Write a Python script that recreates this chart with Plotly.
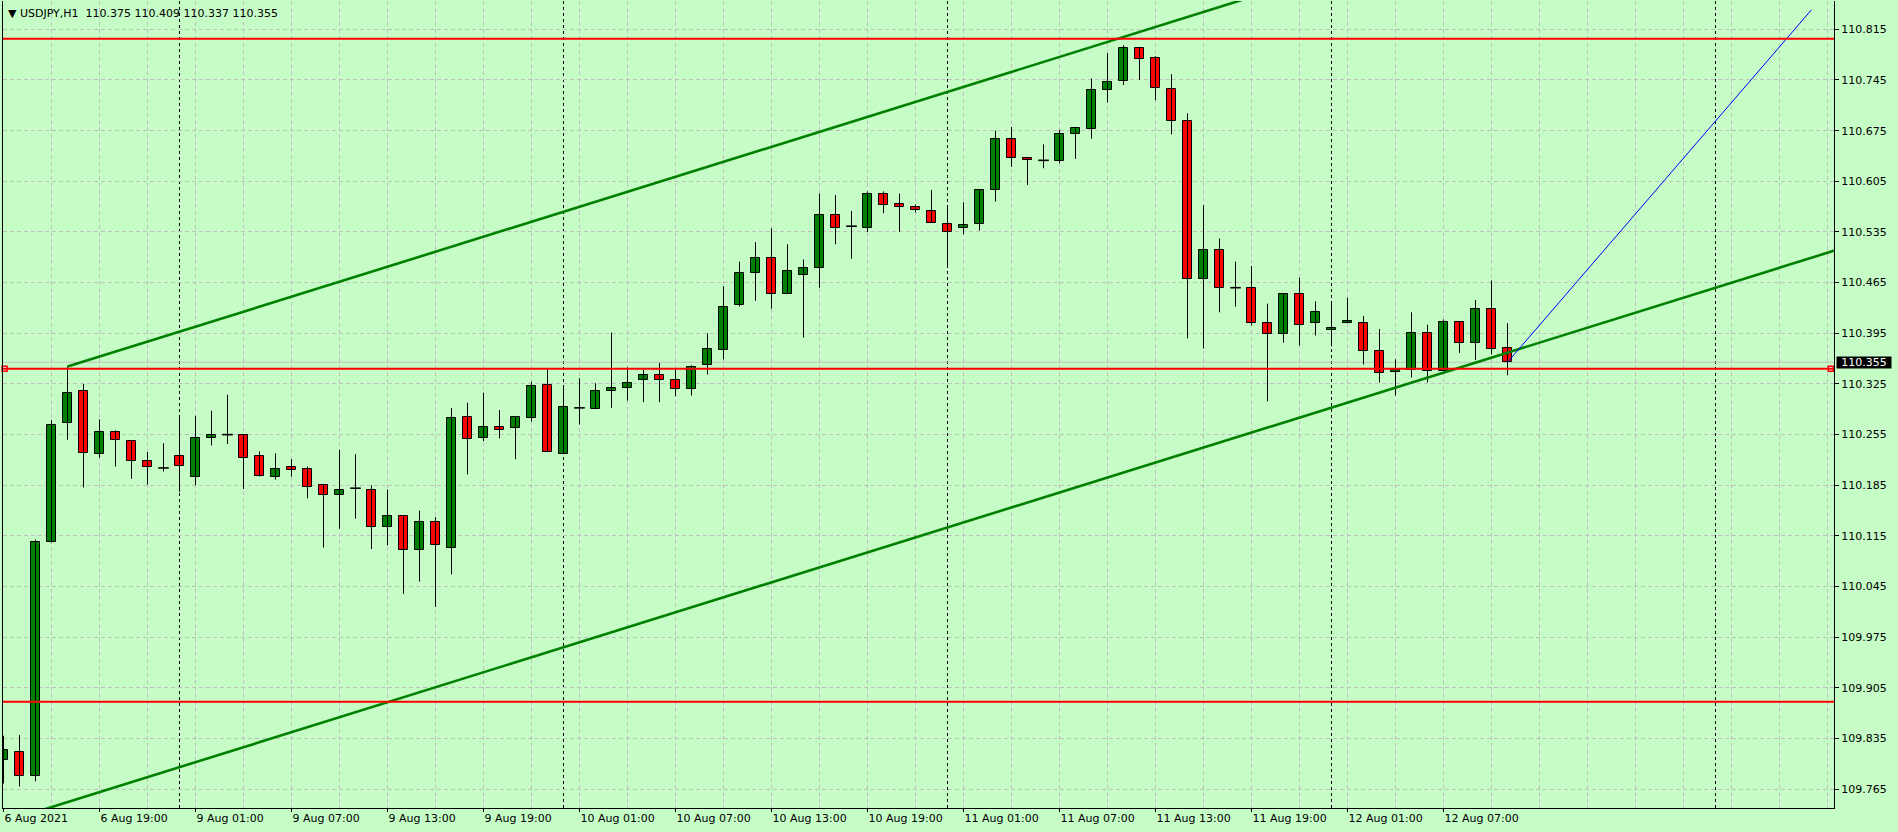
import pandas as pd
import plotly.graph_objects as go

# ---------------- data ----------------
symbol = "USDJPY,H1"

opens = [109.805, 109.817, 109.783, 110.106, 110.271, 110.315, 110.228, 110.258, 110.246, 110.218,
         110.209, 110.225, 110.196, 110.251, 110.255, 110.255, 110.225, 110.197, 110.210, 110.207,
         110.185, 110.171, 110.181, 110.179, 110.128, 110.142, 110.095, 110.134, 110.098, 110.279,
         110.250, 110.265, 110.264, 110.278, 110.323, 110.228, 110.292, 110.291, 110.315, 110.319,
         110.330, 110.338, 110.330, 110.318, 110.351, 110.372, 110.434, 110.479, 110.499, 110.450,
         110.475, 110.485, 110.559, 110.543, 110.541, 110.588, 110.573, 110.569, 110.564, 110.546,
         110.541, 110.546, 110.593, 110.663, 110.637, 110.634, 110.633, 110.670, 110.677, 110.731,
         110.743, 110.789, 110.775, 110.732, 110.689, 110.470, 110.510, 110.458, 110.457, 110.409,
         110.394, 110.450, 110.409, 110.399, 110.409, 110.409, 110.370, 110.341, 110.345, 110.395,
         110.343, 110.410, 110.381, 110.428, 110.375]
highs = [109.839, 109.840, 110.110, 110.275, 110.349, 110.325, 110.276, 110.261, 110.247, 110.231,
         110.243, 110.281, 110.281, 110.288, 110.310, 110.255, 110.232, 110.229, 110.221, 110.211,
         110.186, 110.234, 110.228, 110.185, 110.179, 110.142, 110.150, 110.141, 110.292, 110.299,
         110.313, 110.289, 110.280, 110.328, 110.347, 110.322, 110.333, 110.326, 110.396, 110.348,
         110.345, 110.354, 110.345, 110.351, 110.395, 110.460, 110.494, 110.521, 110.540, 110.518,
         110.497, 110.588, 110.586, 110.564, 110.591, 110.591, 110.588, 110.573, 110.593, 110.571,
         110.576, 110.593, 110.675, 110.680, 110.637, 110.656, 110.676, 110.678, 110.747, 110.782,
         110.793, 110.790, 110.778, 110.753, 110.699, 110.572, 110.526, 110.494, 110.488, 110.436,
         110.450, 110.472, 110.439, 110.438, 110.444, 110.419, 110.401, 110.359, 110.424, 110.407,
         110.414, 110.410, 110.441, 110.468, 110.409]
lows = [109.773, 109.769, 109.776, 110.106, 110.248, 110.182, 110.223, 110.211, 110.194, 110.186,
        110.204, 110.176, 110.185, 110.240, 110.242, 110.180, 110.197, 110.193, 110.197, 110.167,
        110.099, 110.125, 110.139, 110.097, 110.102, 110.035, 110.052, 110.017, 110.062, 110.200,
        110.246, 110.250, 110.221, 110.273, 110.231, 110.228, 110.269, 110.291, 110.292, 110.302,
        110.300, 110.300, 110.308, 110.309, 110.338, 110.359, 110.432, 110.440, 110.429, 110.450,
        110.389, 110.458, 110.518, 110.498, 110.535, 110.561, 110.535, 110.562, 110.548, 110.489,
        110.532, 110.537, 110.577, 110.625, 110.600, 110.623, 110.630, 110.636, 110.664, 110.714,
        110.738, 110.745, 110.717, 110.670, 110.388, 110.374, 110.424, 110.432, 110.406, 110.301,
        110.382, 110.378, 110.392, 110.377, 110.409, 110.352, 110.327, 110.309, 110.334, 110.327,
        110.343, 110.368, 110.358, 110.366, 110.337]
closes = [109.819, 109.784, 110.106, 110.269, 110.313, 110.229, 110.258, 110.247, 110.218, 110.210,
          110.209, 110.211, 110.251, 110.254, 110.255, 110.223, 110.198, 110.208, 110.206, 110.183,
          110.171, 110.179, 110.181, 110.128, 110.142, 110.095, 110.135, 110.102, 110.278, 110.249,
          110.265, 110.262, 110.279, 110.322, 110.231, 110.293, 110.292, 110.315, 110.319, 110.327,
          110.338, 110.330, 110.318, 110.349, 110.374, 110.432, 110.479, 110.499, 110.450, 110.481,
          110.485, 110.559, 110.541, 110.543, 110.588, 110.572, 110.570, 110.565, 110.548, 110.535,
          110.544, 110.593, 110.663, 110.637, 110.634, 110.634, 110.670, 110.678, 110.731, 110.742,
          110.789, 110.774, 110.734, 110.689, 110.470, 110.510, 110.457, 110.458, 110.409, 110.394,
          110.450, 110.407, 110.424, 110.402, 110.412, 110.370, 110.340, 110.345, 110.396, 110.343,
          110.410, 110.381, 110.428, 110.374, 110.355]

# hourly slots (trading hours only), including the empty future area on the right
bar_times = (list(pd.date_range("2021-08-06 13:00", periods=11, freq="h"))
             + list(pd.date_range("2021-08-09 00:00", periods=104, freq="h")))

y_tick_values = [109.765, 109.835, 109.905, 109.975, 110.045, 110.115, 110.185, 110.255,
                 110.325, 110.395, 110.465, 110.535, 110.605, 110.675, 110.745, 110.815]

red_levels = [110.802, 110.346, 109.886]          # horizontal lines
selected_level = 110.346                          # the selected (marked) horizontal line
bid_price = 110.355

channel_upper_x = [4, 115]
channel_upper_y = [110.349, 111.115]
channel_lower_x = [0, 115]
channel_lower_y = [109.7197, 110.5132]
trend_x = [94, 113]
trend_y = [110.355, 110.842]

# ---------------- styling ----------------
BG = "#c6fdc6"
GRID = "#c0c0c0"
UP = "#008000"
DOWN = "#ff0000"
FONT = "DejaVu Sans"

n = len(opens)
idx = list(range(n))
x_range = [-0.03125, 114.40625]
y_range = [109.73917, 110.85412]

fig = go.Figure()

# wicks
wx, wy = [], []
for i in idx:
    wx += [i, i, None]
    wy += [lows[i], highs[i], None]
fig.add_trace(go.Scatter(x=wx, y=wy, mode="lines", line=dict(color="black", width=1),
                         hoverinfo="skip", showlegend=False))

# bodies
up_i = [i for i in idx if closes[i] > opens[i]]
dn_i = [i for i in idx if closes[i] < opens[i]]
dj_i = [i for i in idx if closes[i] == opens[i]]
for sel, col in ((up_i, UP), (dn_i, DOWN)):
    fig.add_trace(go.Bar(
        x=sel,
        base=[min(opens[i], closes[i]) for i in sel],
        y=[abs(closes[i] - opens[i]) for i in sel],
        width=0.6,
        marker=dict(color=col, line=dict(color="black", width=1)),
        hoverinfo="skip", showlegend=False))

# doji
dx, dy = [], []
for i in dj_i:
    dx += [i - 0.33, i + 0.33, None]
    dy += [opens[i], opens[i], None]
fig.add_trace(go.Scatter(x=dx, y=dy, mode="lines", line=dict(color="black", width=1.6),
                         hoverinfo="skip", showlegend=False))

# channel
fig.add_trace(go.Scatter(x=channel_upper_x, y=channel_upper_y, mode="lines",
                         line=dict(color=UP, width=2.6), hoverinfo="skip", showlegend=False))
fig.add_trace(go.Scatter(x=channel_lower_x, y=channel_lower_y, mode="lines",
                         line=dict(color=UP, width=2.6), hoverinfo="skip", showlegend=False))
# trend line
fig.add_trace(go.Scatter(x=trend_x, y=trend_y, mode="lines",
                         line=dict(color="#0000ff", width=1), hoverinfo="skip", showlegend=False))

# shapes: day separators, horizontal levels, bid line
shapes = []
for i, t in enumerate(bar_times):
    if t.hour == 0:
        shapes.append(dict(type="line", xref="x", yref="paper", x0=i, x1=i, y0=0, y1=1,
                           line=dict(color="black", width=1, dash="3px,3px"), layer="between"))
shapes.append(dict(type="line", xref="paper", yref="y", x0=0, x1=1, y0=bid_price, y1=bid_price,
                   line=dict(color="#c0c0c0", width=1), layer="between"))
for lv in red_levels:
    shapes.append(dict(type="line", xref="paper", yref="y", x0=0, x1=1, y0=lv, y1=lv,
                       line=dict(color="#ff0000", width=2), layer="above"))

# selection markers on the selected level
fig.add_trace(go.Scatter(x=[x_range[0] + 0.1, x_range[1] - 0.2], y=[selected_level] * 2,
                         mode="markers", cliponaxis=False,
                         marker=dict(symbol="square", size=5, color="white",
                                     line=dict(color="#ff0000", width=1.5)),
                         hoverinfo="skip", showlegend=False))

# x tick labels every 6 bars (only where bars exist)
tick_idx = list(range(0, n, 6))
tick_txt = []
for i in tick_idx:
    t = bar_times[i]
    if i == 0:
        tick_txt.append(f"{t.day} {t:%b} {t.year}")
    else:
        tick_txt.append(f"{t.day} {t:%b} {t:%H:%M}")

header = ("\u25bc " + symbol + "\u00a0\u00a0"
          + " ".join(f"{v:.3f}" for v in (opens[-1], highs[-1], lows[-1], closes[-1])))

annotations = [
    dict(xref="paper", yref="paper", x=0, y=1, xanchor="left", yanchor="top",
         text=header, showarrow=False, xshift=3, yshift=-4,
         font=dict(family=FONT, size=11, color="black")),
    dict(xref="paper", yref="y", x=1, y=bid_price, xanchor="left", yanchor="middle",
         text=f"{bid_price:.3f}", showarrow=False, xshift=2, bgcolor="black",
         width=54, height=11, borderpad=0,
         font=dict(family=FONT, size=11, color="white")),
]

fig.update_layout(
    width=1898, height=832,
    margin=dict(l=3, r=64, t=1, b=24),
    paper_bgcolor=BG, plot_bgcolor=BG,
    barmode="overlay", bargap=0,
    shapes=shapes, annotations=annotations,
    font=dict(family=FONT, size=11, color="black"),
    showlegend=False, hovermode=False,
    xaxis=dict(range=x_range, type="linear", tickmode="array", tickvals=tick_idx,
               ticktext=tick_txt, ticks="outside", ticklen=3, tickcolor="black",
               ticklabelposition="outside right",
               showline=True, linecolor="black", linewidth=1,
               showgrid=True, gridcolor=GRID, gridwidth=1, griddash="4px,3px",
               minor=dict(tickmode="linear", tick0=0, dtick=3, showgrid=True,
                          gridcolor=GRID, gridwidth=1, griddash="4px,3px", ticks=""),
               zeroline=False, fixedrange=True),
    yaxis=dict(range=y_range, side="right", tickmode="array", tickvals=y_tick_values,
               ticktext=[f"{v:.3f}" for v in y_tick_values],
               ticks="outside", ticklen=4, tickcolor="black",
               showline=True, linecolor="black", linewidth=1, mirror=True,
               showgrid=True, gridcolor=GRID, gridwidth=1, griddash="4px,3px",
               zeroline=False, fixedrange=True),
)

fig.write_html("out.html", config={"displayModeBar": False},
               post_script="document.body.style.margin='0';")
